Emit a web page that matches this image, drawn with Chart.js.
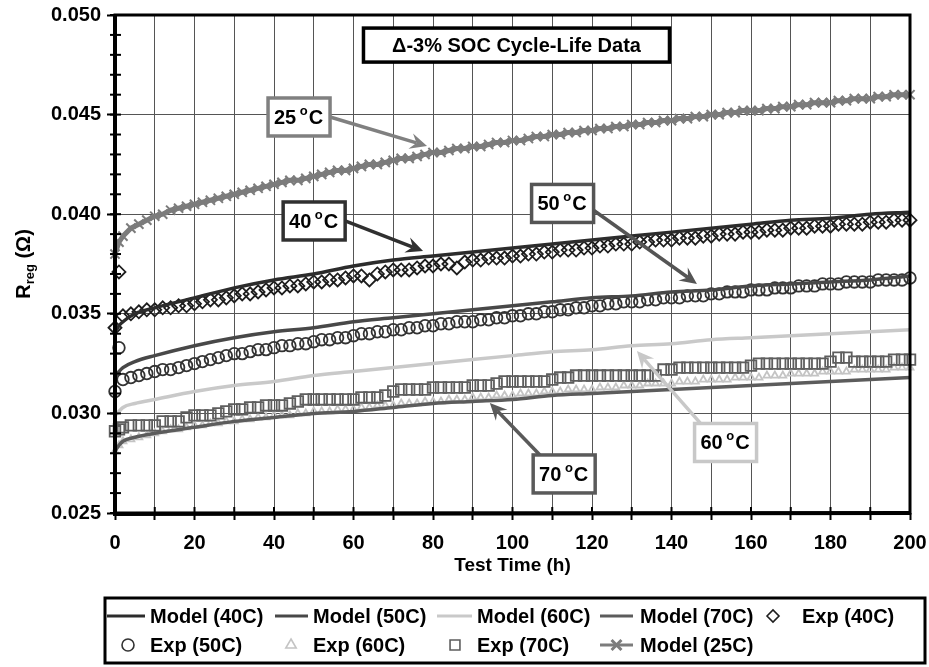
<!doctype html>
<html lang="en">
<head>
<meta charset="utf-8">
<title>R_reg vs Test Time</title>
<style>
  * { margin: 0; padding: 0; }
  body { background: #fff; }
  #chart { display: block; }
</style>
</head>
<body>
<canvas id="chart" width="929" height="667"></canvas>
<script src="https://cdn.jsdelivr.net/npm/chart.js@4.4.1/dist/chart.umd.min.js"></script>
<script>
// data block (time in h, resistance in ohm)
const modelTimes = [0, 1, 2, 5, 10, 20, 30, 40, 50, 60, 70, 80, 90, 100, 110, 120, 130, 140, 150, 160, 170, 180, 190, 200];
const model40 = [0.0341, 0.0344, 0.0346, 0.0350, 0.0353, 0.0358, 0.0363, 0.0367, 0.0370, 0.0374, 0.0377, 0.0379, 0.0381, 0.0383, 0.0385, 0.0387, 0.0389, 0.0391, 0.0393, 0.0395, 0.0397, 0.0398, 0.0400, 0.0401];
const model50 = [0.0318, 0.0321, 0.0323, 0.0326, 0.0329, 0.0334, 0.0338, 0.0341, 0.0343, 0.0346, 0.0348, 0.0350, 0.0352, 0.0354, 0.0356, 0.0358, 0.0359, 0.0361, 0.0362, 0.0364, 0.0365, 0.0366, 0.0367, 0.0369];
const model60 = [0.0299, 0.0301, 0.0303, 0.0305, 0.0307, 0.0311, 0.0314, 0.0316, 0.0319, 0.0321, 0.0323, 0.0325, 0.0327, 0.0329, 0.0331, 0.0332, 0.0334, 0.0335, 0.0337, 0.0338, 0.0339, 0.0340, 0.0341, 0.0342];
const model70 = [0.0281, 0.0284, 0.0286, 0.0288, 0.0290, 0.0293, 0.0296, 0.0298, 0.0300, 0.0301, 0.0303, 0.0305, 0.0306, 0.0307, 0.0309, 0.0310, 0.0311, 0.0312, 0.0313, 0.0314, 0.0315, 0.0316, 0.0317, 0.0318];

const expTimes = [0, 1,
  2, 4, 6, 8, 10, 12, 14, 16, 18, 20,
  22, 24, 26, 28, 30, 32, 34, 36, 38, 40,
  42, 44, 46, 48, 50, 52, 54, 56, 58, 60,
  62, 64, 66, 68, 70, 72, 74, 76, 78, 80,
  82, 84, 86, 88, 90, 92, 94, 96, 98, 100,
  102, 104, 106, 108, 110, 112, 114, 116, 118, 120,
  122, 124, 126, 128, 130, 132, 134, 136, 138, 140,
  142, 144, 146, 148, 150, 152, 154, 156, 158, 160,
  162, 164, 166, 168, 170, 172, 174, 176, 178, 180,
  182, 184, 186, 188, 190, 192, 194, 196, 198, 200];

const exp40 = [0.0343, 0.0371,
  0.0349, 0.0350, 0.0351, 0.0352, 0.0352, 0.0353, 0.0353, 0.0354, 0.0354, 0.0355,
  0.0356, 0.0357, 0.0357, 0.0358, 0.0359, 0.0360, 0.0360, 0.0361, 0.0362, 0.0363,
  0.0363, 0.0364, 0.0364, 0.0365, 0.0366, 0.0366, 0.0367, 0.0367, 0.0368, 0.0369,
  0.0369, 0.0367, 0.0370, 0.0371, 0.0372, 0.0372, 0.0372, 0.0373, 0.0374, 0.0374,
  0.0375, 0.0375, 0.0373, 0.0376, 0.0377, 0.0377, 0.0378, 0.0378, 0.0378, 0.0379,
  0.0379, 0.0380, 0.0380, 0.0381, 0.0381, 0.0382, 0.0382, 0.0382, 0.0383, 0.0383,
  0.0384, 0.0384, 0.0385, 0.0385, 0.0385, 0.0386, 0.0386, 0.0387, 0.0387, 0.0387,
  0.0388, 0.0388, 0.0388, 0.0389, 0.0389, 0.0390, 0.0390, 0.0390, 0.0391, 0.0391,
  0.0391, 0.0392, 0.0392, 0.0392, 0.0393, 0.0393, 0.0393, 0.0394, 0.0394, 0.0394,
  0.0395, 0.0395, 0.0395, 0.0395, 0.0396, 0.0396, 0.0396, 0.0397, 0.0397, 0.0397];

const exp50 = [0.0311, 0.0333,
  0.0317, 0.0318, 0.0319, 0.0320, 0.0321, 0.0322, 0.0322, 0.0323, 0.0324, 0.0325,
  0.0326, 0.0327, 0.0328, 0.0329, 0.0330, 0.0330, 0.0331, 0.0332, 0.0332, 0.0333,
  0.0334, 0.0334, 0.0335, 0.0335, 0.0336, 0.0337, 0.0337, 0.0338, 0.0338, 0.0339,
  0.0340, 0.0340, 0.0341, 0.0341, 0.0342, 0.0342, 0.0343, 0.0343, 0.0344, 0.0344,
  0.0345, 0.0345, 0.0346, 0.0346, 0.0346, 0.0347, 0.0347, 0.0348, 0.0348, 0.0349,
  0.0349, 0.0350, 0.0350, 0.0351, 0.0351, 0.0352, 0.0352, 0.0353, 0.0353, 0.0354,
  0.0354, 0.0355, 0.0355, 0.0356, 0.0356, 0.0356, 0.0357, 0.0357, 0.0358, 0.0358,
  0.0358, 0.0359, 0.0359, 0.0359, 0.0360, 0.0360, 0.0361, 0.0361, 0.0361, 0.0362,
  0.0362, 0.0362, 0.0363, 0.0363, 0.0363, 0.0364, 0.0364, 0.0364, 0.0365, 0.0365,
  0.0365, 0.0366, 0.0366, 0.0366, 0.0366, 0.0367, 0.0367, 0.0367, 0.0367, 0.0368];

const exp60 = [0.0281, 0.0284,
  0.0286, 0.0287, 0.0288, 0.0289, 0.0290, 0.0291, 0.0292, 0.0292, 0.0293, 0.0294,
  0.0294, 0.0295, 0.0295, 0.0296, 0.0296, 0.0297, 0.0297, 0.0298, 0.0298, 0.0299,
  0.0299, 0.0299, 0.0300, 0.0300, 0.0301, 0.0301, 0.0301, 0.0302, 0.0302, 0.0302,
  0.0303, 0.0303, 0.0304, 0.0304, 0.0304, 0.0305, 0.0305, 0.0305, 0.0306, 0.0306,
  0.0306, 0.0307, 0.0307, 0.0307, 0.0308, 0.0308, 0.0308, 0.0309, 0.0309, 0.0309,
  0.0310, 0.0310, 0.0310, 0.0311, 0.0311, 0.0311, 0.0312, 0.0312, 0.0312, 0.0312,
  0.0313, 0.0313, 0.0313, 0.0314, 0.0314, 0.0314, 0.0315, 0.0315, 0.0315, 0.0315,
  0.0316, 0.0316, 0.0316, 0.0317, 0.0317, 0.0317, 0.0317, 0.0318, 0.0318, 0.0318,
  0.0318, 0.0319, 0.0319, 0.0319, 0.0320, 0.0320, 0.0320, 0.0320, 0.0321, 0.0321,
  0.0321, 0.0321, 0.0322, 0.0322, 0.0322, 0.0322, 0.0322, 0.0323, 0.0323, 0.0323];

const exp70 = [0.0291, 0.0292,
  0.0293, 0.0294, 0.0294, 0.0294, 0.0294, 0.0296, 0.0296, 0.0296, 0.0298, 0.0299,
  0.0299, 0.0299, 0.0300, 0.0301, 0.0302, 0.0302, 0.0303, 0.0303, 0.0304, 0.0304,
  0.0304, 0.0305, 0.0306, 0.0307, 0.0307, 0.0307, 0.0307, 0.0307, 0.0307, 0.0307,
  0.0308, 0.0308, 0.0308, 0.0309, 0.0311, 0.0312, 0.0312, 0.0312, 0.0312, 0.0313,
  0.0313, 0.0313, 0.0313, 0.0313, 0.0314, 0.0314, 0.0314, 0.0315, 0.0316, 0.0316,
  0.0316, 0.0316, 0.0316, 0.0316, 0.0317, 0.0318, 0.0318, 0.0319, 0.0319, 0.0319,
  0.0319, 0.0319, 0.0319, 0.0319, 0.0319, 0.0319, 0.0319, 0.0319, 0.0322, 0.0322,
  0.0323, 0.0323, 0.0323, 0.0323, 0.0323, 0.0323, 0.0323, 0.0323, 0.0323, 0.0324,
  0.0325, 0.0325, 0.0325, 0.0325, 0.0325, 0.0325, 0.0325, 0.0325, 0.0325, 0.0326,
  0.0328, 0.0328, 0.0326, 0.0326, 0.0326, 0.0326, 0.0326, 0.0327, 0.0327, 0.0327];

const model25 = [0.0380, 0.0386,
  0.0389, 0.0393, 0.0395, 0.0397, 0.0399, 0.0400, 0.0402, 0.0403, 0.0404, 0.0405,
  0.0406, 0.0407, 0.0408, 0.0409, 0.0410, 0.0411, 0.0412, 0.0413, 0.0414, 0.0415,
  0.0416, 0.0417, 0.0417, 0.0418, 0.0419, 0.0420, 0.0421, 0.0422, 0.0422, 0.0423,
  0.0424, 0.0425, 0.0425, 0.0426, 0.0427, 0.0428, 0.0428, 0.0429, 0.0430, 0.0431,
  0.0431, 0.0432, 0.0433, 0.0433, 0.0434, 0.0434, 0.0435, 0.0436, 0.0436, 0.0437,
  0.0437, 0.0438, 0.0439, 0.0439, 0.0440, 0.0440, 0.0441, 0.0441, 0.0442, 0.0442,
  0.0443, 0.0443, 0.0444, 0.0444, 0.0445, 0.0445, 0.0446, 0.0446, 0.0447, 0.0447,
  0.0448, 0.0448, 0.0449, 0.0449, 0.0450, 0.0450, 0.0451, 0.0451, 0.0452, 0.0452,
  0.0452, 0.0453, 0.0453, 0.0454, 0.0454, 0.0455, 0.0455, 0.0456, 0.0456, 0.0456,
  0.0457, 0.0457, 0.0458, 0.0458, 0.0458, 0.0459, 0.0459, 0.0460, 0.0460, 0.0460];

const FONT = "'Liberation Sans', Arial, Helvetica, sans-serif";
Chart.defaults.font.family = FONT;

const pts = (ts, vs) => ts.map((t, i) => ({ x: t, y: vs[i] }));

const modelLine = (label, vals, color) => ({
  label, data: pts(modelTimes, vals), borderColor: color, backgroundColor: color,
  borderWidth: 3.5, pointRadius: 0, showLine: true, cubicInterpolationMode: 'monotone', clip: 8
});
const expPoints = (label, vals, color, style, r) => ({
  label, data: pts(expTimes, vals), borderColor: color, backgroundColor: 'rgba(0,0,0,0)',
  showLine: false, pointStyle: style, pointRadius: r, pointBorderWidth: 1.8, clip: 10
});

const data = {
  datasets: [
    modelLine('Model (40C)', model40, '#2c2c2c'),
    modelLine('Model (50C)', model50, '#484848'),
    modelLine('Model (60C)', model60, '#c9c9c9'),
    modelLine('Model (70C)', model70, '#5c5c5c'),
    expPoints('Exp (40C)', exp40, '#1e1e1e', 'rectRot', 6.5),
    expPoints('Exp (50C)', exp50, '#333333', 'circle', 5.8),
    Object.assign(expPoints('Exp (60C)', exp60, '#c4c4c4', 'triangle', 4), { order: 1 }),
    expPoints('Exp (70C)', exp70, '#5e5e5e', 'rect', 7.5),
    {
      label: 'Model (25C)', data: pts(expTimes, model25), borderColor: '#7c7c7c', backgroundColor: '#7c7c7c',
      borderWidth: 5, showLine: true, pointStyle: 'crossRot', pointRadius: 6.5, pointBorderWidth: 2, clip: 10
    }
  ]
};

// callouts: box centre and arrow ends in data units
const callouts = [
  { text: '25', color: '#808080', box: [46.3, 0.04488], from: [54.1, 0.04488], to: [78.5, 0.04342] },
  { text: '40', color: '#303030', box: [50.1, 0.03966], from: [57.9, 0.03966], to: [77.5, 0.03815] },
  { text: '50', color: '#555555', box: [112.6, 0.04054], from: [120.3, 0.04021], to: [146.4, 0.03650] },
  { text: '60', color: '#c8c8c8', box: [153.6, 0.02854], from: [147.2, 0.02952], to: [131.3, 0.03313] },
  { text: '70', color: '#5a5a5a', box: [113.0, 0.02696], from: [106.9, 0.02791], to: [94.3, 0.03052] }
];

// legend layout: dataset index, row, kind, marker x range, text x
const legendItems = [
  { i: 0, row: 0, kind: 'line', x0: 107, x1: 145, tx: 150 },
  { i: 1, row: 0, kind: 'line', x0: 275, x1: 308, tx: 313 },
  { i: 2, row: 0, kind: 'line', x0: 437, x1: 472, tx: 477 },
  { i: 3, row: 0, kind: 'line', x0: 600, x1: 633, tx: 640 },
  { i: 4, row: 0, kind: 'rectRot', x0: 773, tx: 802 },
  { i: 5, row: 1, kind: 'circle', x0: 128, tx: 150 },
  { i: 6, row: 1, kind: 'triangle', x0: 291, tx: 313 },
  { i: 7, row: 1, kind: 'rect', x0: 455, tx: 477 },
  { i: 8, row: 1, kind: 'cross', x0: 600, x1: 633, tx: 640 }
];

function arrow(ctx, x1, y1, x2, y2, color) {
  const a = Math.atan2(y2 - y1, x2 - x1);
  const len = 17, half = 8, notch = 11;
  ctx.save();
  ctx.strokeStyle = color;
  ctx.fillStyle = color;
  ctx.lineWidth = 3.5;
  ctx.beginPath();
  ctx.moveTo(x1, y1);
  ctx.lineTo(x2 - Math.cos(a) * notch, y2 - Math.sin(a) * notch);
  ctx.stroke();
  ctx.translate(x2, y2);
  ctx.rotate(a);
  ctx.beginPath();
  ctx.moveTo(0, 0);
  ctx.lineTo(-len, -half);
  ctx.lineTo(-notch, 0);
  ctx.lineTo(-len, half);
  ctx.closePath();
  ctx.fill();
  ctx.restore();
}

function degreeLabel(ctx, num, cx, cy) {
  ctx.font = 'bold 20px ' + FONT;
  const wN = ctx.measureText(num + ' ').width;
  const wC = ctx.measureText('C').width;
  ctx.font = 'bold 13px ' + FONT;
  const wO = ctx.measureText('o').width;
  let x = cx - (wN + wO + wC) / 2;
  ctx.textAlign = 'left';
  ctx.textBaseline = 'alphabetic';
  ctx.fillStyle = '#000';
  ctx.font = 'bold 20px ' + FONT;
  ctx.fillText(num + ' ', x, cy + 7);
  x += wN - 2;
  ctx.font = 'bold 13px ' + FONT;
  ctx.fillText('o', x, cy - 2);
  x += wO + 1;
  ctx.font = 'bold 20px ' + FONT;
  ctx.fillText('C', x, cy + 7);
}

const decorations = {
  id: 'decorations',
  afterDatasetsDraw(chart) {
    const { ctx, chartArea: { left, right, top, bottom }, scales: { x, y } } = chart;
    ctx.save();

    // frame
    ctx.strokeStyle = '#000';
    ctx.lineWidth = 3;
    ctx.strokeRect(left, top, right - left, bottom - top);
    ctx.lineWidth = 4;
    ctx.beginPath();
    ctx.moveTo(left, top - 1);
    ctx.lineTo(left, bottom + 1);
    ctx.lineTo(right + 1, bottom);
    ctx.stroke();

    // minor ticks on y, crossing ticks on x
    ctx.lineWidth = 2;
    for (let k = 25; k <= 50; k++) {
      const py = y.getPixelForValue(k / 1000);
      ctx.beginPath();
      ctx.moveTo(left - 5, py);
      ctx.lineTo(left + 6, py);
      ctx.stroke();
    }
    for (let t = 0; t <= 200; t += 10) {
      const px = x.getPixelForValue(t);
      ctx.beginPath();
      ctx.moveTo(px, bottom - 6);
      ctx.lineTo(px, bottom);
      ctx.stroke();
    }

    // title box
    const tcx = x.getPixelForValue(101), tcy = y.getPixelForValue(0.04849);
    ctx.fillStyle = '#fff';
    ctx.fillRect(tcx - 153, tcy - 17, 306, 34);
    ctx.lineWidth = 3.5;
    ctx.strokeStyle = '#000';
    ctx.strokeRect(tcx - 153, tcy - 17, 306, 34);
    ctx.fillStyle = '#000';
    ctx.font = 'bold 20px ' + FONT;
    ctx.textAlign = 'center';
    ctx.textBaseline = 'middle';
    ctx.fillText('\u0394-3% SOC Cycle-Life Data', tcx, tcy + 1);

    // callouts
    callouts.forEach(c => {
      arrow(ctx, x.getPixelForValue(c.from[0]), y.getPixelForValue(c.from[1]),
        x.getPixelForValue(c.to[0]), y.getPixelForValue(c.to[1]), c.color);
    });
    callouts.forEach(c => {
      const bx = x.getPixelForValue(c.box[0]), by = y.getPixelForValue(c.box[1]);
      ctx.fillStyle = '#fff';
      ctx.fillRect(bx - 31, by - 19, 62, 38);
      ctx.strokeStyle = c.color;
      ctx.lineWidth = 3.5;
      ctx.strokeRect(bx - 31, by - 19, 62, 38);
      degreeLabel(ctx, c.text, bx, by);
    });

    ctx.restore();
  },
  afterDraw(chart) {
    const { ctx } = chart;
    ctx.save();
    ctx.fillStyle = '#000';

    // y title: R_reg (Ω)
    ctx.translate(23, 264);
    ctx.rotate(-Math.PI / 2);
    ctx.font = 'bold 20px ' + FONT;
    const wR = ctx.measureText('R').width;
    const wT = ctx.measureText(' (\u03A9)').width;
    ctx.font = 'bold 13px ' + FONT;
    const wS = ctx.measureText('reg').width;
    let sx = -(wR + wS + wT) / 2;
    ctx.textAlign = 'left';
    ctx.textBaseline = 'alphabetic';
    ctx.font = 'bold 20px ' + FONT;
    ctx.fillText('R', sx, 7);
    ctx.font = 'bold 13px ' + FONT;
    ctx.fillText('reg', sx + wR, 11);
    ctx.font = 'bold 20px ' + FONT;
    ctx.fillText(' (\u03A9)', sx + wR + wS, 7);
    ctx.setTransform(1, 0, 0, 1, 0, 0);

    // x title
    ctx.font = 'bold 19px ' + FONT;
    ctx.textAlign = 'center';
    ctx.textBaseline = 'middle';
    ctx.fillText('Test Time (h)', chart.scales.x.getPixelForValue(100), 566);

    // legend
    ctx.lineWidth = 3;
    ctx.strokeStyle = '#000';
    ctx.strokeRect(105, 598, 820, 65);
    const rows = [616, 645];
    legendItems.forEach(it => {
      const ds = chart.data.datasets[it.i];
      const ly = rows[it.row];
      ctx.strokeStyle = ds.borderColor;
      if (it.kind === 'line' || it.kind === 'cross') {
        ctx.lineWidth = 3;
        ctx.beginPath();
        ctx.moveTo(it.x0, ly);
        ctx.lineTo(it.x1, ly);
        ctx.stroke();
        if (it.kind === 'cross') {
          Chart.helpers.drawPoint(ctx, { pointStyle: 'crossRot', radius: 7, borderWidth: 1.6 }, (it.x0 + it.x1) / 2, ly);
        }
      } else {
        ctx.lineWidth = 1.6;
        ctx.fillStyle = 'rgba(0,0,0,0)';
        const r = it.kind === 'rect' ? 7 : 6;
        Chart.helpers.drawPoint(ctx, { pointStyle: it.kind, radius: r, borderWidth: 1.6 }, it.x0, ly);
      }
      ctx.fillStyle = '#000';
      ctx.font = 'bold 20px ' + FONT;
      ctx.textAlign = 'left';
      ctx.textBaseline = 'middle';
      ctx.fillText(ds.label, it.tx, ly + 1);
    });
    ctx.restore();
  }
};

const config = {
  type: 'line',
  data,
  options: {
    responsive: false,
    animation: false,
    devicePixelRatio: 1,
    events: [],
    layout: { padding: { top: 15, right: 19, left: 0, bottom: 0 } },
    plugins: { legend: { display: false }, title: { display: false }, tooltip: { enabled: false } },
    scales: {
      x: {
        type: 'linear', min: 0, max: 200,
        ticks: {
          stepSize: 10, autoSkip: false, maxRotation: 0, padding: 11, color: '#000',
          font: { size: 20, weight: 'bold' },
          callback: v => (v % 20 === 0 ? v : '')
        },
        grid: { color: '#555', lineWidth: 1, tickLength: 7, tickColor: '#000', tickWidth: 2 },
        border: { display: false },
        afterFit: s => { s.height = 154; s.paddingLeft = 0; s.paddingRight = 0; }
      },
      y: {
        min: 0.025, max: 0.05,
        ticks: {
          stepSize: 0.005, padding: 6, color: '#000',
          font: { size: 20, weight: 'bold' },
          callback: v => v.toFixed(3)
        },
        grid: { color: '#555', lineWidth: 1, tickLength: 8, tickColor: '#000', tickWidth: 2 },
        border: { display: false },
        afterFit: s => { s.width = 115; s.paddingTop = 0; s.paddingBottom = 0; }
      }
    }
  },
  plugins: [decorations]
};

const myChart = new Chart(document.getElementById('chart'), config);
</script>
</body>
</html>
